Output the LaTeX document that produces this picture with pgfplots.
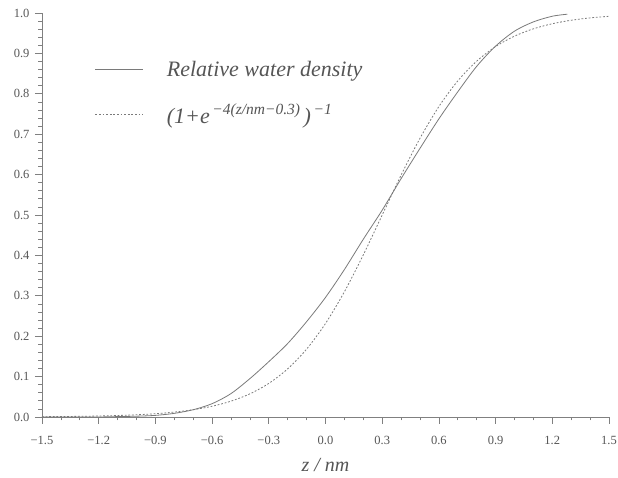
\documentclass[border=0pt]{standalone}
\usepackage{pgfplots}
\pgfplotsset{compat=1.18}
\usepackage{pgfplotstable}
\usepackage{fontspec}
\setmainfont{Liberation Serif}
\definecolor{axgray}{HTML}{808080}
\definecolor{txtgray}{HTML}{555555}
\definecolor{curvegray}{HTML}{7A7A7A}

\pgfplotstableread{
z rho
-1.50 0.000
-1.40 0.000
-1.30 0.000
-1.20 0.000
-1.10 0.001
-1.00 0.002
-0.90 0.004
-0.80 0.009
-0.70 0.018
-0.60 0.033
-0.50 0.058
-0.40 0.095
-0.30 0.137
-0.20 0.182
-0.10 0.236
0.00 0.296
0.10 0.365
0.20 0.440
0.30 0.512
0.40 0.590
0.50 0.665
0.60 0.738
0.70 0.805
0.80 0.868
0.90 0.918
1.00 0.955
1.10 0.978
1.20 0.992
1.28 0.997
}\densitytable

\pgfplotstableread{
z f
-1.5 0.000746
-1.4 0.001113
-1.3 0.001659
-1.2 0.002473
-1.1 0.003685
-1.0 0.005486
-0.9 0.008163
-0.8 0.012128
-0.7 0.017986
-0.6 0.026597
-0.5 0.039166
-0.4 0.057324
-0.3 0.083173
-0.2 0.119203
-0.1 0.167982
0.0 0.231475
0.1 0.310026
0.2 0.401312
0.3 0.500000
0.4 0.598688
0.5 0.689974
0.6 0.768525
0.7 0.832018
0.8 0.880797
0.9 0.916827
1.0 0.942676
1.1 0.960834
1.2 0.973403
1.3 0.982014
1.4 0.987872
1.5 0.991837
}\fittable

\newcommand{\sups}[1]{\raisebox{9pt}{\fontsize{15.5}{15.5}\selectfont\itshape #1}}

\begin{document}
\begin{tikzpicture}
\path[use as bounding box] (-42pt,-61pt) rectangle (576pt,417pt);
\begin{axis}[
  scale only axis,
  width=567pt, height=404pt,
  xmin=-1.5, xmax=1.5, ymin=0, ymax=1,
  axis x line*=bottom, axis y line*=left,
  axis line style={axgray, line width=0.8pt},
  xtick pos=bottom, ytick pos=left,
  tick align=outside,
  xtick={-1.5,-1.2,-0.9,-0.6,-0.3,0,0.3,0.6,0.9,1.2,1.5},
  xticklabels={−1.5,−1.2,−0.9,−0.6,−0.3,0.0,0.3,0.6,0.9,1.2,1.5},
  minor x tick num=2,
  ytick={0,0.1,...,1.0},
  yticklabels={0.0,0.1,0.2,0.3,0.4,0.5,0.6,0.7,0.8,0.9,1.0},
  minor y tick num=4,
  major tick length=7pt, minor tick length=3.5pt,
  tick style={axgray, line width=0.7pt},
  ticklabel style={font=\fontsize{12.5}{14}\selectfont, text=txtgray},
  xticklabel style={yshift=-9pt},
  yticklabel style={xshift=-2pt},
  xlabel={\textit{z / nm}},
  x label style={at={(axis description cs:0.5,0)}, anchor=center, yshift=-48pt, font=\fontsize{20}{22}\selectfont, text=txtgray},
  clip=false,
  legend style={at={(rel axis cs:0.088,0.891)}, anchor=north west, draw=none, fill=none,
     font=\itshape\fontsize{22}{24}\selectfont, text=txtgray, row sep=22pt,
     nodes={inner xsep=12pt},
     /tikz/every odd column/.append style={column sep=11pt}},
  legend cell align=left,
  legend image code/.code={\draw[#1] (0pt,0pt) -- (48pt,0pt);},
]
\addplot[curvegray, line width=0.8pt, smooth] table[x=z, y=rho] {\densitytable};
\addlegendentry{Relative water density}
\addplot[curvegray, line width=0.8pt, smooth, dash pattern=on 1.8pt off 1.8pt] table[x=z, y=f] {\fittable};
\addlegendentry{(1+e\sups{\,−4(z/nm−0.3)}\,)\sups{\,−1}}
\end{axis}
\end{tikzpicture}
\end{document}
